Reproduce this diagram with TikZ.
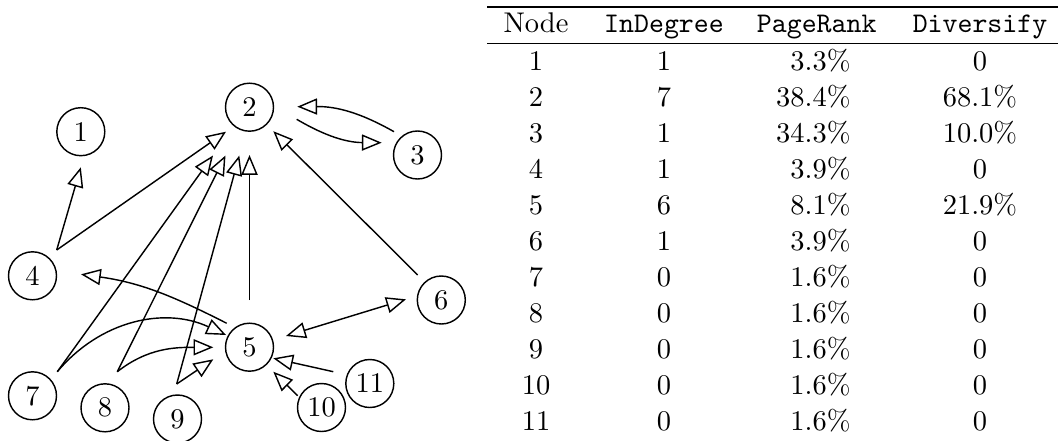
\documentclass[tikz,border=0pt]{standalone}
\usetikzlibrary{arrows.meta,calc}
\begin{document}
\begin{tikzpicture}[x=0.3846pt,y=-0.3846pt,
  every node/.style={font=\fontsize{10.95}{13.6}\selectfont},
  vertex/.style={circle,draw,line width=0.55pt,minimum size=18.46pt,inner sep=0pt,outer sep=0pt},
  arr/.style={line width=0.55pt,-{Triangle[open,length=7.6pt,width=6.2pt]}},
  biarr/.style={line width=0.55pt,{Triangle[open,length=7.6pt,width=6.2pt]}-{Triangle[open,length=7.6pt,width=6.2pt]}},
  cell/.style={anchor=base,inner sep=0pt},
  numcell/.style={anchor=base east,inner sep=0pt},
  toprulestyle/.style={line width=0.8pt},
  midrulestyle/.style={line width=0.5pt}]
\useasboundingbox (0,0) rectangle (1058,440);

% graph nodes
\node[vertex] (n1)  at (80.8,131.7) {1};
\node[vertex] (n2)  at (249.5,107.2) {2};
\node[vertex] (n3)  at (417.5,155) {3};
\node[vertex] (n4)  at (32.5,275.8) {4};
\node[vertex] (n5)  at (249.5,347.2) {5};
\node[vertex] (n6)  at (441.3,300) {6};
\node[vertex] (n7)  at (32.5,395.8) {7};
\node[vertex] (n8)  at (105,407.8) {8};
\node[vertex] (n9)  at (177.5,419) {9};
\node[vertex] (n10) at (321.5,407.5) {10};
\node[vertex] (n11) at (369.8,383.5) {11};

% edges
\draw[arr] ($(n4)+(24.2,-25.8)$) -- ($(n1)+(0,35.6)$);
\draw[arr] ($(n4)+(24.2,-25.8)$) -- ($(n2)+(-23.5,24.5)$);
\draw[arr] ($(n2)+(47.2,12.1)$) to[bend right=15] ($(n3)+(-35.8,-12.3)$);
\draw[arr] ($(n3)+(-23.5,-23.3)$) to[bend right=15] ($(n2)+(47.8,-0.5)$);
\draw[arr] ($(n6)+(-23.6,-25)$) -- ($(n2)+(23.8,24)$);
\draw[arr] ($(n5)+(0,-47.2)$) -- ($(n2)+(0,47.8)$);
\draw[arr] ($(n7)+(24.8,-24.1)$) -- ($(n2)+(-36.5,48.3)$);
\draw[arr] ($(n8)+(12.3,-36.1)$) -- ($(n2)+(-24,48.3)$);
\draw[arr] ($(n9)+(-0.8,-35)$) -- ($(n2)+(-10.2,48.3)$);
\draw[arr] ($(n7)+(24.8,-24.1)$) to[out=50,in=155] ($(n5)+(-23.5,-12.2)$);
\draw[arr] ($(n8)+(12.3,-36.1)$) to[out=38,in=180] ($(n5)+(-36.2,0.1)$);
\draw[arr] ($(n9)+(-0.8,-35)$) -- ($(n5)+(-36.2,12.1)$);
\draw[arr] ($(n5)+(-22.8,-23.9)$) to[out=153,in=-8] ($(n4)+(48.5,-1.5)$);
\draw[biarr] ($(n5)+(36.5,-11.2)$) -- ($(n6)+(-35.3,-0.7)$);
\draw[arr] ($(n11)+(-36.5,-11.8)$) -- ($(n5)+(23.8,11.1)$);
\draw[arr] ($(n10)+(-23.8,-11.8)$) -- ($(n5)+(23.8,24.5)$);

% table
\draw[toprulestyle] (487.3,6.7) -- (1058,6.7);
\draw[midrulestyle] (487.3,43.3) -- (1058,43.3);
\node[cell] (hNode) at (536,33) {Node};
\node[cell] (hInDeg) at (664,33) {\texttt{InDegree}};
\node[cell] (hPR) at (816.7,33) {\texttt{PageRank}};
\node[cell] (hDiv) at (980,33) {\texttt{Diversify}};
\foreach \n/\d/\p/\v [count=\i from 0] in {1/1/3.3/0, 2/7/38.4/68.1\%, 3/1/34.3/10.0\%, 4/1/3.9/0, 5/6/8.1/21.9\%, 6/1/3.9/0, 7/0/1.6/0, 8/0/1.6/0, 9/0/1.6/0, 10/0/1.6/0, 11/0/1.6/0}{
  \node[cell] (tn\n) at (536,{70+36*\i}) {\n};
  \node[cell] (ti\n) at (664,{70+36*\i}) {\d};
  \node[numcell] (tp\n) at (851,{70+36*\i}) {\p\%};
  \node[cell] (tv\n) at (980,{70+36*\i}) {\v};
}
\end{tikzpicture}
\end{document}
